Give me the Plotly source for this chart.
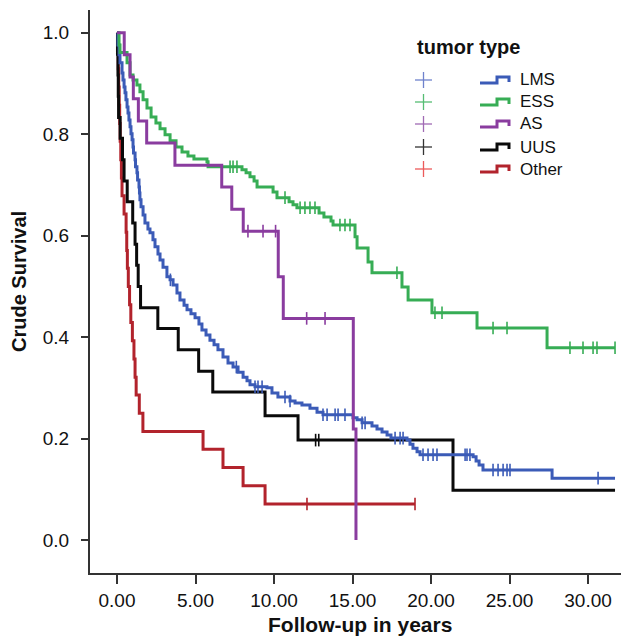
import numpy as np
import plotly.graph_objects as go

# ---------------- data ----------------
series_names = ["LMS", "ESS", "AS", "UUS", "Other"]

lms_t = [0, 0.06, 0.13, 0.19, 0.32, 0.38, 0.45, 0.51, 0.57, 0.64, 0.70, 0.76, 0.83, 0.89, 0.96,
         1.02, 1.05, 1.15, 1.18, 1.27, 1.31, 1.40, 1.43, 1.46, 1.53, 1.66, 1.78, 1.97, 2.10, 2.29,
         2.42, 2.61, 2.74, 2.93, 3.18, 3.38, 3.57, 3.82, 4.01, 4.27, 4.46, 4.71, 4.97, 5.22, 5.41,
         5.67, 5.92, 6.18, 6.43, 6.75, 7.07, 7.39, 7.71, 8.03, 8.28, 8.47, 8.79, 9.55, 9.87, 10.25,
         11.02, 11.34, 11.78, 12.29, 12.74, 13.12, 15.03, 15.29, 15.61, 16.24, 16.56, 16.88, 17.20,
         17.45, 18.47, 18.66, 18.85, 19.11, 19.30, 22.68, 22.87, 23.06, 23.31, 27.71]
lms_s = [1.0, 0.976, 0.957, 0.941, 0.921, 0.907, 0.893, 0.882, 0.868, 0.854, 0.842, 0.828, 0.815,
         0.801, 0.789, 0.775, 0.763, 0.750, 0.736, 0.724, 0.710, 0.696, 0.684, 0.671, 0.657, 0.641,
         0.625, 0.613, 0.606, 0.592, 0.578, 0.564, 0.552, 0.538, 0.519, 0.513, 0.503, 0.487, 0.473,
         0.463, 0.454, 0.446, 0.438, 0.426, 0.414, 0.404, 0.394, 0.385, 0.375, 0.361, 0.349, 0.341,
         0.331, 0.321, 0.314, 0.306, 0.302, 0.300, 0.290, 0.282, 0.274, 0.270, 0.266, 0.260, 0.252,
         0.247, 0.241, 0.237, 0.231, 0.225, 0.219, 0.213, 0.207, 0.201, 0.197, 0.189, 0.181, 0.174,
         0.168, 0.164, 0.156, 0.148, 0.138, 0.122]
lms_end = 31.72
lms_cens = [3.4, 7.6, 8.79, 8.98, 9.24, 10.7, 11.02, 13.12, 13.38, 13.89, 14.08, 14.52, 15.61, 15.8,
            17.71, 18.03, 18.22, 19.49, 19.81, 20.13, 20.38, 22.17, 22.29, 22.48, 23.95, 24.27,
            24.59, 24.84, 25.03, 30.64]

ess_t = [0, 0.13, 0.19, 0.64, 0.83, 1.02, 1.27, 1.46, 1.66, 1.91, 2.17, 2.48, 2.74, 3.06, 3.38,
         3.76, 4.14, 4.52, 4.90, 5.73, 5.80, 7.96, 8.22, 8.47, 8.73, 8.92, 9.94, 10.19, 10.96, 11.21,
         11.46, 12.87, 13.18, 13.63, 13.76, 15.16, 15.29, 15.99, 16.24, 18.15, 18.54, 20.06, 22.93,
         27.39]
ess_s = [1.0, 0.976, 0.961, 0.941, 0.917, 0.907, 0.897, 0.884, 0.868, 0.852, 0.834, 0.822, 0.811,
         0.799, 0.787, 0.775, 0.765, 0.757, 0.751, 0.746, 0.736, 0.730, 0.724, 0.716, 0.708, 0.696,
         0.686, 0.675, 0.667, 0.661, 0.655, 0.645, 0.637, 0.629, 0.621, 0.598, 0.576, 0.548, 0.527,
         0.499, 0.473, 0.448, 0.418, 0.379]
ess_end = 31.72
ess_cens = [7.2, 7.39, 7.64, 10.7, 11.66, 11.97, 12.29, 12.61, 14.2, 14.52, 14.84, 17.83, 20.25,
            20.7, 23.95, 24.84, 28.85, 29.68, 30.32, 30.57, 31.72]

as_t = [0, 0.46, 0.83, 1.04, 1.36, 1.89, 3.69, 6.67, 7.31, 8.04, 10.27, 10.59, 15.05, 15.22]
as_s = [1.0, 0.957, 0.913, 0.870, 0.826, 0.783, 0.739, 0.696, 0.652, 0.609, 0.519, 0.437, 0.219, 0.0]
as_end = 15.22
as_cens = [8.34, 9.3, 10.1, 12.08, 13.25]

uus_t = [0, 0.03, 0.06, 0.08, 0.10, 0.20, 0.35, 0.45, 0.65, 1.00, 1.15, 1.25, 1.35, 1.50, 2.60,
         3.90, 5.20, 6.10, 9.43, 11.53, 21.40]
uus_s = [1.0, 0.958, 0.917, 0.875, 0.833, 0.792, 0.750, 0.708, 0.667, 0.625, 0.583, 0.542, 0.500,
         0.458, 0.417, 0.375, 0.333, 0.292, 0.245, 0.197, 0.098]
uus_end = 31.72
uus_cens = [12.65, 12.85]

oth_t = [0, 0.05, 0.08, 0.11, 0.14, 0.17, 0.20, 0.24, 0.28, 0.32, 0.45, 0.58, 0.62, 0.66, 0.72,
         0.80, 0.88, 0.98, 1.08, 1.15, 1.22, 1.42, 1.65, 5.48, 6.75, 8.03, 9.43]
oth_s = [1.0, 0.964, 0.929, 0.893, 0.857, 0.821, 0.786, 0.750, 0.714, 0.679, 0.643, 0.607, 0.571,
         0.536, 0.500, 0.464, 0.429, 0.393, 0.357, 0.321, 0.286, 0.250, 0.214, 0.179, 0.143, 0.107,
         0.071]
oth_end = 18.98
oth_cens = [12.1, 18.98]

x_ticks = [0, 5, 10, 15, 20, 25, 30]
x_ticklabels = ["0.00", "5.00", "10.00", "15.00", "20.00", "25.00", "30.00"]
y_ticks = [0.0, 0.2, 0.4, 0.6, 0.8, 1.0]
y_ticklabels = ["0.0", "0.2", "0.4", "0.6", "0.8", "1.0"]
x_title = "Follow-up in years"
y_title = "Crude Survival"
legend_title = "tumor type"

# ---------------- styling ----------------
line_colors = {"LMS": "#3b5bb7", "ESS": "#37ad55", "AS": "#8a3c9f", "UUS": "#0a0a0a", "Other": "#b2232c"}
plus_colors = {"LMS": "#6f82cc", "ESS": "#55bd73", "AS": "#a06ab4", "UUS": "#333333", "Other": "#ec5a5a"}

data = {
    "LMS": (lms_t, lms_s, lms_end, lms_cens),
    "ESS": (ess_t, ess_s, ess_end, ess_cens),
    "AS": (as_t, as_s, as_end, as_cens),
    "UUS": (uus_t, uus_s, uus_end, uus_cens),
    "Other": (oth_t, oth_s, oth_end, oth_cens),
}

W, H = 633, 637
ML, MT = 90, 10
MR = W - 621
MB = H - 573
PW, PH = W - ML - MR, H - MT - MB
FONT = "Liberation Sans, Arial, sans-serif"

fig = go.Figure()
draw_order = ["Other", "UUS", "LMS", "ESS", "AS"]
for name in draw_order:
    t, s, end, cens = data[name]
    xs = list(t) + [end]
    ys = list(s) + [s[-1]]
    col = line_colors[name]
    fig.add_trace(go.Scatter(x=xs, y=ys, mode="lines", line=dict(shape="hv", color=col, width=3),
                             showlegend=False, hoverinfo="skip"))
    ta = np.array(t)
    sa = np.array(s)
    idx = np.searchsorted(ta, np.array(cens), side="right") - 1
    fig.add_trace(go.Scatter(x=cens, y=sa[idx], mode="markers",
                             marker=dict(symbol="line-ns", size=9, line=dict(color=col, width=1.6)),
                             showlegend=False, hoverinfo="skip"))

# ---------------- legend and titles drawn by hand (window pixel positions) ----------------
def px_x(px):
    return (px - ML) / PW

def px_y(py):
    return (H - MB - py) / PH

shapes = []
annotations = []
annotations.append(dict(x=px_x(415), y=px_y(47), xref="paper", yref="paper",
                        text="<b>" + legend_title + "</b>",
                        showarrow=False, xanchor="left", yanchor="middle",
                        font=dict(family=FONT, size=20, color="#111")))
row_y = [80, 102, 124, 147, 169]
for name, ry in zip(series_names, row_y):
    pc = plus_colors[name]
    shapes.append(dict(type="line", xref="paper", yref="paper", x0=px_x(415), x1=px_x(432),
                       y0=px_y(ry), y1=px_y(ry), line=dict(color=pc, width=1.3)))
    shapes.append(dict(type="line", xref="paper", yref="paper", x0=px_x(423.5), x1=px_x(423.5),
                       y0=px_y(ry - 8), y1=px_y(ry + 8), line=dict(color=pc, width=1.3)))
    lc = line_colors[name]
    path = "M {} {} L {} {} L {} {} L {} {} L {} {}".format(
        px_x(480), px_y(ry + 3), px_x(497), px_y(ry + 3), px_x(497), px_y(ry - 3),
        px_x(509), px_y(ry - 3), px_x(509), px_y(ry + 2))
    shapes.append(dict(type="path", xref="paper", yref="paper", path=path,
                       line=dict(color=lc, width=3)))
    annotations.append(dict(x=px_x(518), y=px_y(ry), xref="paper", yref="paper", text=name,
                            showarrow=False, xanchor="left", yanchor="middle",
                            font=dict(family=FONT, size=17, color="#111")))

annotations.append(dict(x=px_x(360), y=px_y(624), xref="paper", yref="paper",
                        text="<b>" + x_title + "</b>", showarrow=False,
                        xanchor="center", yanchor="middle",
                        font=dict(family=FONT, size=21, color="#111")))
annotations.append(dict(x=px_x(19), y=px_y(282), xref="paper", yref="paper",
                        text="<b>" + y_title + "</b>", showarrow=False, textangle=-90,
                        xanchor="center", yanchor="middle",
                        font=dict(family=FONT, size=20, color="#111")))

fig.update_layout(
    width=W, height=H,
    margin=dict(l=ML, r=MR, t=MT, b=MB, pad=0),
    paper_bgcolor="white", plot_bgcolor="white",
    font=dict(family=FONT, size=19, color="#111"),
    shapes=shapes, annotations=annotations,
    xaxis=dict(range=[-1.72, 32.1], tickvals=x_ticks, ticktext=x_ticklabels,
               showgrid=False, zeroline=False, showline=True, linecolor="#333", linewidth=2,
               ticks="outside", ticklen=9, tickwidth=2, tickcolor="#333",
               tickfont=dict(size=19), automargin=False),
    yaxis=dict(range=[-0.065, 1.045], tickvals=y_ticks, ticktext=y_ticklabels,
               showgrid=False, zeroline=False, showline=True, linecolor="#333", linewidth=2,
               ticks="outside", ticklen=7, tickwidth=2, tickcolor="#333",
               tickfont=dict(size=19), automargin=False, ticklabelstandoff=8),
)

fig.write_html("out.html", config={"displayModeBar": False},
               post_script="document.body.style.margin='0';document.body.style.overflow='hidden';")
